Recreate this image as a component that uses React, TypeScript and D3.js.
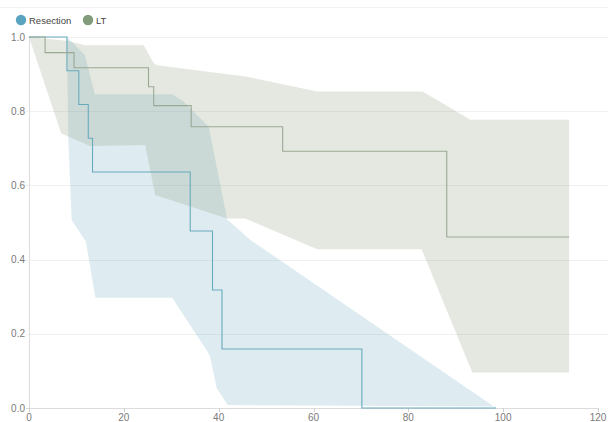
import React, { useEffect, useRef } from 'react';
import * as d3 from 'd3';

// Kaplan-Meier steps: [time, survival]
const resectionSteps = [
  [0, 1], [8, 0.909], [10.5, 0.818], [12.5, 0.727], [13.4, 0.636],
  [34, 0.477], [38.7, 0.318], [40.7, 0.159], [70.2, 0], [98.5, 0],
];
const ltSteps = [
  [0, 1], [3.4, 0.958], [9.5, 0.917], [25.2, 0.866], [26.3, 0.815],
  [34.2, 0.758], [53.5, 0.692], [88.1, 0.461], [113.9, 0.461],
];

// 95% CI bounds
const resectionUpper = [
  [0, 1], [8, 1], [11.8, 0.951], [13.9, 0.846], [30.2, 0.846], [32.6, 0.826],
  [37.9, 0.758], [41.8, 0.508], [46.7, 0.453], [98.5, 0],
];
const resectionLower = [
  [0, 1], [8, 1], [8.3, 0.72], [9.0, 0.507], [12.0, 0.448], [14.0, 0.297],
  [30.2, 0.297], [38.1, 0.143], [39.6, 0.053], [41.9, 0.008], [98.5, 0.004],
];
const ltUpper = [
  [0, 1], [8, 0.99], [11.8, 0.978], [24.2, 0.978], [26.3, 0.929], [27, 0.924],
  [46, 0.893], [60.8, 0.853], [83, 0.853], [93.1, 0.777], [113.9, 0.777],
];
const ltLower = [
  [0, 1], [6.8, 0.74], [12.9, 0.706], [24.5, 0.709], [26.6, 0.574],
  [41.8, 0.511], [45.6, 0.511], [60.8, 0.428], [82.8, 0.428], [93.5, 0.096],
  [113.9, 0.096],
];

const xTicks = [0, 20, 40, 60, 80, 100, 120];
const yTicks = [0, 0.2, 0.4, 0.6, 0.8, 1.0];

const series = [
  { name: 'Resection', steps: resectionSteps, upper: resectionUpper, lower: resectionLower,
    line: '#68aabd', dot: '#5ba4c0', fill: 'rgba(90,160,185,0.2)' },
  { name: 'LT', steps: ltSteps, upper: ltUpper, lower: ltLower,
    line: '#9aa894', dot: '#829b7a', fill: 'rgba(130,150,120,0.22)' },
];

const App = () => {
  const svgRef = useRef(null);
  const width = 608;
  const height = 422;

  useEffect(() => {
    const svg = d3.select(svgRef.current);
    svg.selectAll('*').remove();

    const x = d3.scaleLinear().domain([0, 120]).range([29, 598]);
    const y = d3.scaleLinear().domain([0, 1]).range([408, 37]);
    const font = 'Helvetica, Arial, "Liberation Sans", sans-serif';

    // faint top border
    svg.append('line')
      .attr('x1', 0).attr('x2', width).attr('y1', 7.5).attr('y2', 7.5)
      .attr('stroke', '#f3f3f3');

    // horizontal grid
    svg.append('g').selectAll('line')
      .data(yTicks.filter(d => d > 0))
      .enter().append('line')
      .attr('x1', 26).attr('x2', width)
      .attr('y1', d => Math.round(y(d)) + 0.5).attr('y2', d => Math.round(y(d)) + 0.5)
      .attr('stroke', '#f0f0f0');

    // CI bands
    const poly = d3.line().x(d => x(d[0])).y(d => y(d[1]));
    series.forEach(s => {
      const pts = s.upper.concat(s.lower.slice().reverse());
      svg.append('path')
        .attr('d', poly(pts) + 'Z')
        .attr('fill', s.fill)
        .attr('stroke', 'none');
    });

    // axes
    svg.append('line')
      .attr('x1', 29.5).attr('x2', 29.5).attr('y1', y(1)).attr('y2', y(0))
      .attr('stroke', '#dcdcdc');
    svg.append('line')
      .attr('x1', 26).attr('x2', 598).attr('y1', 408.5).attr('y2', 408.5)
      .attr('stroke', '#dcdcdc');

    svg.append('g').selectAll('line')
      .data(xTicks)
      .enter().append('line')
      .attr('x1', d => Math.round(x(d)) + 0.5).attr('x2', d => Math.round(x(d)) + 0.5)
      .attr('y1', 408).attr('y2', 412)
      .attr('stroke', '#cfcfcf');

    svg.append('g').selectAll('text')
      .data(xTicks)
      .enter().append('text')
      .attr('x', d => x(d)).attr('y', 421)
      .attr('text-anchor', 'middle')
      .style('font-family', font).style('font-size', '10px')
      .attr('fill', '#7a7a7a')
      .text(d => d);

    svg.append('g').selectAll('text')
      .data(yTicks)
      .enter().append('text')
      .attr('x', 25).attr('y', d => y(d) + 3.5)
      .attr('text-anchor', 'end')
      .style('font-family', font).style('font-size', '10px')
      .attr('fill', '#7a7a7a')
      .text(d => d.toFixed(1));

    // KM step lines
    const step = d3.line().x(d => x(d[0])).y(d => y(d[1])).curve(d3.curveStepAfter);
    series.forEach(s => {
      svg.append('path')
        .attr('d', step(s.steps))
        .attr('fill', 'none')
        .attr('stroke', s.line)
        .attr('stroke-width', 1.1);
    });

    // legend
    const legendX = [21, 88];
    series.forEach((s, i) => {
      svg.append('circle')
        .attr('cx', legendX[i]).attr('cy', 20).attr('r', 5.2)
        .attr('fill', s.dot);
      svg.append('text')
        .attr('x', legendX[i] + 8).attr('y', 23.5)
        .style('font-family', font).style('font-size', '9.5px')
        .attr('fill', '#444')
        .text(s.name);
    });
  }, []);

  return (
    <svg ref={svgRef} width={width} height={height}
      style={{ position: 'absolute', left: 0, top: 0, background: '#fff' }} />
  );
};

export default App;
